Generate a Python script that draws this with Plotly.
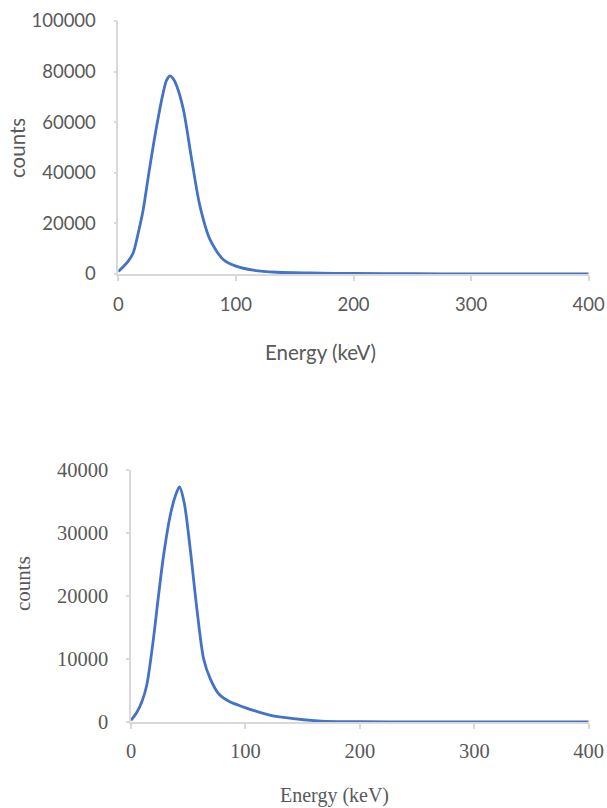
import plotly.graph_objects as go

# Top spectrum
energy_top = [0, 4, 8.5, 12.7, 17, 21.2, 25.5, 29.7, 34, 38.2, 41, 43.9, 46.5, 49.6,
              55.3, 62.4, 69.4, 77.9, 89.2, 100, 114.7, 134.5, 163, 200, 250, 300, 350, 400]
counts_top = [1000, 2800, 5100, 8400, 16300, 25500, 38500, 50600, 62000, 71700, 76500, 78300,
              77300, 74400, 65100, 45300, 26900, 13700, 5740, 3100, 1500, 700, 400, 200, 100,
              50, 30, 20]

# Bottom spectrum
energy_bot = [0, 5, 9.4, 13.7, 19.6, 24, 28.4, 34.2, 38.6, 42.4, 46.5, 51.8, 57.6, 63.5,
              69.3, 76.6, 86.8, 98.5, 107, 122, 142, 166, 200, 250, 300, 350, 400]
counts_bot = [260, 1500, 3160, 5800, 13200, 20000, 26350, 32700, 35800, 37300, 34800, 27400,
              17900, 10000, 6850, 4480, 3160, 2370, 1840, 1050, 530, 150, 50, 30, 20, 10, 10]

x_ticks = [0, 100, 200, 300, 400]
y_ticks_top = [0, 20000, 40000, 60000, 80000, 100000]
y_ticks_bot = [0, 10000, 20000, 30000, 40000]

W, H = 607, 808
LINE = "#4472C4"
AX = "#d9d9d9"
TXT = "#595959"
SANS = "Lato, 'Open Sans', sans-serif"
SERIF = "'Liberation Serif', 'Times New Roman', serif"

fig = go.Figure()
fig.add_trace(go.Scatter(x=energy_top, y=counts_top, mode="lines",
                         line=dict(color=LINE, width=2.8, shape="spline", smoothing=0.8),
                         xaxis="x", yaxis="y", showlegend=False))
fig.add_trace(go.Scatter(x=energy_bot, y=counts_bot, mode="lines",
                         line=dict(color=LINE, width=2.8, shape="spline", smoothing=0.8),
                         xaxis="x2", yaxis="y2", showlegend=False))

def xax(domain, anchor, font, standoff):
    return dict(domain=domain, anchor=anchor, range=[0, 400], tickvals=x_ticks,
                ticktext=[str(v) for v in x_ticks],
                showgrid=False, zeroline=False, showline=True, linecolor=AX, linewidth=1.5,
                ticks="outside", ticklen=5, tickcolor=AX, tickwidth=1.5,
                tickfont=font, automargin=False, fixedrange=True,
                ticklabelstandoff=standoff)

def yax(domain, anchor, rng, vals, font, standoff):
    return dict(domain=domain, anchor=anchor, range=rng, tickvals=vals,
                ticktext=[str(v) for v in vals],
                showgrid=False, zeroline=False, showline=True, linecolor=AX, linewidth=1.5,
                ticks="outside", ticklen=3, tickcolor=AX, tickwidth=1.5,
                tickfont=font, automargin=False, fixedrange=True,
                ticklabelstandoff=standoff)

tick_top = dict(family=SANS, size=18.5, color=TXT)
title_top = dict(family=SANS, size=20.5, color=TXT)
tick_bot = dict(family=SERIF, size=20.5, color=TXT)
title_bot = dict(family=SERIF, size=20, color=TXT)
ylab_bot = dict(family=SERIF, size=21, color=TXT)

fig.update_layout(
    width=W, height=H,
    margin=dict(l=0, r=0, t=0, b=0),
    paper_bgcolor="white", plot_bgcolor="white",
    xaxis=xax([118.3 / W, 588.7 / W], "y", tick_top, 8),
    yaxis=yax([1 - 274 / H, 1 - 21 / H], "x", [0, 100000], y_ticks_top, tick_top, 14),
    xaxis2=xax([131 / W, 588.7 / W], "y2", tick_bot, 5),
    yaxis2=yax([1 - 722 / H, 1 - 470 / H], "x2", [0, 40000], y_ticks_bot, tick_bot, 14),
    annotations=[
        dict(text="Energy (keV)", x=321 / W, y=1 - 352 / H, xref="paper", yref="paper",
             showarrow=False, xanchor="center", yanchor="middle", font=title_top),
        dict(text="counts", x=17 / W, y=1 - 148 / H, xref="paper", yref="paper",
             showarrow=False, xanchor="center", yanchor="middle", textangle=-90, font=title_top),
        dict(text="Energy (keV)", x=334.5 / W, y=1 - 795 / H, xref="paper", yref="paper",
             showarrow=False, xanchor="center", yanchor="middle", font=title_bot),
        dict(text="counts", x=23 / W, y=1 - 584 / H, xref="paper", yref="paper",
             showarrow=False, xanchor="center", yanchor="middle", textangle=-90, font=ylab_bot),
    ],
)

fig.write_html("out.html")
